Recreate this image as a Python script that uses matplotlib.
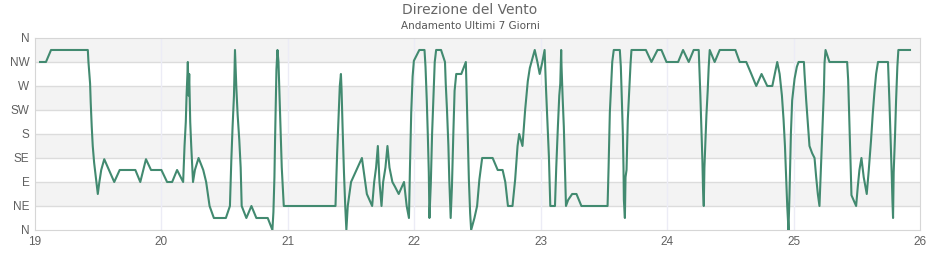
import matplotlib.pyplot as plt

# wind direction, in 45 degree sectors (0 = N, 2 = E, 4 = S, 6 = W, 8 = N)
giorni = [19.04, 19.087, 19.127, 19.418, 19.423, 19.436, 19.441, 19.449, 19.457, 19.468, 19.484, 19.497,
          19.508, 19.524, 19.548, 19.627, 19.67, 19.794, 19.833, 19.878, 19.918, 20.0, 20.045, 20.085,
          20.124, 20.172, 20.183, 20.193, 20.199, 20.206, 20.209, 20.215, 20.22, 20.228, 20.236, 20.25,
          20.265, 20.294, 20.331, 20.354, 20.381, 20.415, 20.51, 20.542, 20.553, 20.563, 20.574, 20.582,
          20.587, 20.593, 20.603, 20.616, 20.627, 20.635, 20.672, 20.712, 20.751, 20.841, 20.878, 20.886,
          20.894, 20.899, 20.905, 20.91, 20.918, 20.926, 20.939, 20.952, 20.963, 20.968,
          21.377, 21.39, 21.403, 21.411, 21.42, 21.425, 21.433, 21.444, 21.454, 21.463, 21.474, 21.5,
          21.586, 21.625, 21.667, 21.683, 21.698, 21.712, 21.725, 21.741, 21.754, 21.772, 21.788,
          21.804, 21.827, 21.848, 21.877, 21.919, 21.94, 21.958, 21.966, 21.976, 21.987, 21.997,
          22.04, 22.081, 22.089, 22.099, 22.107, 22.115, 22.12, 22.131, 22.141, 22.154, 22.162, 22.173,
          22.212, 22.243, 22.249, 22.259, 22.27, 22.277, 22.288, 22.298, 22.309, 22.319, 22.332,
          22.372, 22.408, 22.416, 22.424, 22.432, 22.442, 22.45, 22.476, 22.497, 22.515, 22.537,
          22.62, 22.66, 22.699, 22.72, 22.741, 22.777, 22.798, 22.817, 22.83, 22.856, 22.877, 22.898,
          22.914, 22.935, 22.953, 22.974, 22.992, 23.013, 23.031, 23.042, 23.052, 23.065, 23.076,
          23.113, 23.123, 23.136, 23.147, 23.155, 23.162, 23.165, 23.173, 23.183, 23.191, 23.2,
          23.217, 23.249, 23.283, 23.322, 23.529, 23.537, 23.547, 23.558, 23.566, 23.578,
          23.626, 23.634, 23.642, 23.65, 23.655, 23.658, 23.666, 23.671, 23.679, 23.689, 23.7, 23.711, 23.718,
          23.832, 23.876, 23.924, 23.955, 23.995, 24.087, 24.126, 24.171, 24.21, 24.25,
          24.255, 24.263, 24.271, 24.279, 24.284, 24.29, 24.295, 24.303, 24.311, 24.321, 24.329, 24.337,
          24.376, 24.416, 24.54, 24.574, 24.626, 24.666, 24.705, 24.747, 24.792, 24.832, 24.871,
          24.89, 24.908, 24.921, 24.932, 24.942, 24.95, 24.96, 24.968, 24.979, 24.989, 25.008, 25.026, 25.04,
          25.082, 25.087, 25.1, 25.113, 25.126, 25.147, 25.166, 25.179, 25.192, 25.205,
          25.213, 25.224, 25.232, 25.24, 25.245, 25.253, 25.284, 25.424, 25.432, 25.439, 25.447, 25.453, 25.458,
          25.495, 25.508, 25.521, 25.537, 25.555, 25.579, 25.595, 25.613, 25.626, 25.639, 25.653, 25.668,
          25.747, 25.758, 25.768, 25.776, 25.782, 25.787, 25.792, 25.803, 25.811, 25.821, 25.829, 25.921]
settore = [7.0, 7.0, 7.5, 7.5, 7.0, 6.1, 5.3, 4.3, 3.5, 2.8, 2.1, 1.5,
           1.95, 2.5, 2.95, 2.0, 2.5, 2.5, 2.0, 2.95, 2.5, 2.5, 2.0, 2.0,
           2.5, 2.0, 3.5, 4.5, 5.6, 6.5, 7.0, 5.6, 6.5, 4.5, 3.5, 2.0,
           2.5, 3.0, 2.5, 2.0, 1.0, 0.5, 0.5, 1.0, 2.9, 4.3, 5.6, 7.5,
           6.8, 5.9, 4.8, 3.75, 2.6, 1.0, 0.5, 1.0, 0.5, 0.5, 0.0, 0.75,
           2.2, 3.75, 5.3, 6.7, 7.5, 7.0, 4.8, 2.6, 1.5, 1.0,
           1.0, 3.2, 5.0, 6.0, 6.5, 5.85, 4.3, 2.4, 1.0, 0.0, 1.0, 2.0,
           3.0, 1.5, 1.0, 2.0, 2.6, 3.5, 2.0, 1.0, 2.0, 2.6, 3.5,
           2.6, 2.0, 1.8, 1.5, 2.0, 1.0, 0.5, 2.6, 4.9, 6.4, 7.05,
           7.5, 7.5, 6.8, 5.4, 4.0, 2.4, 0.5, 1.95, 4.0, 5.8, 7.0, 7.5,
           7.5, 7.0, 6.1, 5.0, 3.5, 2.1, 0.5, 1.8, 4.0, 5.8, 6.5,
           6.5, 7.0, 5.4, 3.9, 2.1, 0.7, 0.0, 0.5, 1.0, 2.1, 3.0,
           3.0, 2.5, 2.5, 2.0, 1.0, 1.0, 2.1, 3.5, 4.0, 3.5, 5.0, 6.2,
           6.75, 7.15, 7.5, 7.0, 6.5, 7.0, 7.5, 5.9, 4.7, 3.06, 1.0,
           1.0, 2.6, 4.3, 5.6, 6.1, 7.5, 6.8, 5.6, 4.3, 2.8, 1.0,
           1.25, 1.5, 1.5, 1.0, 1.0, 2.6, 4.9, 6.1, 7.0, 7.5,
           7.5, 6.8, 5.4, 4.0, 2.6, 1.25, 0.5, 2.2, 2.5, 4.6, 5.8, 6.95, 7.5,
           7.5, 7.0, 7.5, 7.5, 7.0, 7.0, 7.5, 7.0, 7.5, 7.5,
           6.8, 5.6, 4.3, 2.9, 1.7, 1.0, 2.6, 3.75, 4.8, 5.8, 6.8, 7.5,
           7.0, 7.5, 7.5, 7.0, 7.0, 6.5, 6.0, 6.5, 6.0, 6.0, 7.0,
           6.5, 5.6, 4.6, 3.5, 2.1, 1.0, 0.0, 1.5, 4.0, 5.4, 6.3, 6.8, 7.0,
           7.0, 6.5, 5.4, 4.45, 3.5, 3.2, 3.0, 2.2, 1.5, 1.0,
           2.1, 3.5, 4.8, 5.8, 6.95, 7.5, 7.0, 7.0, 6.25, 5.0, 3.5, 2.4, 1.45,
           1.0, 1.8, 2.5, 3.0, 2.2, 1.5, 2.5, 3.75, 4.8, 5.7, 6.5, 7.0,
           7.0, 5.4, 3.75, 2.4, 1.25, 0.5, 2.4, 4.0, 5.4, 6.8, 7.5, 7.5]
etichette = ['N', 'NE', 'E', 'SE', 'S', 'SW', 'W', 'NW', 'N']
giorni_tick = [19, 20, 21, 22, 23, 24, 25, 26]

fig = plt.figure(figsize=(9.4, 2.6), dpi=100)
ax = fig.add_axes([0.0372, 0.1154, 0.9415, 0.7385])

# alternate bands
for i in range(8):
    if i % 2 == 1:
        ax.axhspan(i, i + 1, color='#f3f3f3', zorder=0, lw=0)
for i in range(1, 8):
    ax.axhline(i, color='#dcdcdc', lw=1, zorder=1)
for d in giorni_tick[1:-1]:
    ax.axvline(d, color='#ececf6', lw=1, zorder=1)

ax.plot(giorni, settore, color='#428a70', lw=1.5, zorder=3)

ax.set_xlim(19, 26)
ax.set_ylim(0, 8)
ax.set_yticks(range(9))
ax.set_yticklabels(etichette, family='Liberation Sans')
ax.set_xticks(giorni_tick)
ax.set_xticklabels(giorni_tick, family='Liberation Sans')
ax.tick_params(length=0, labelsize=8.5, colors='#606060', pad=4)
for s in ax.spines.values():
    s.set_color('#d6d6d6')

fig.text(0.5, 0.962, 'Direzione del Vento', ha='center', va='center', fontsize=10, color='#666666')
fig.text(0.5, 0.9, 'Andamento Ultimi 7 Giorni', ha='center', va='center', fontsize=7.5, color='#555555')

fig.savefig('out.png', dpi=100)
